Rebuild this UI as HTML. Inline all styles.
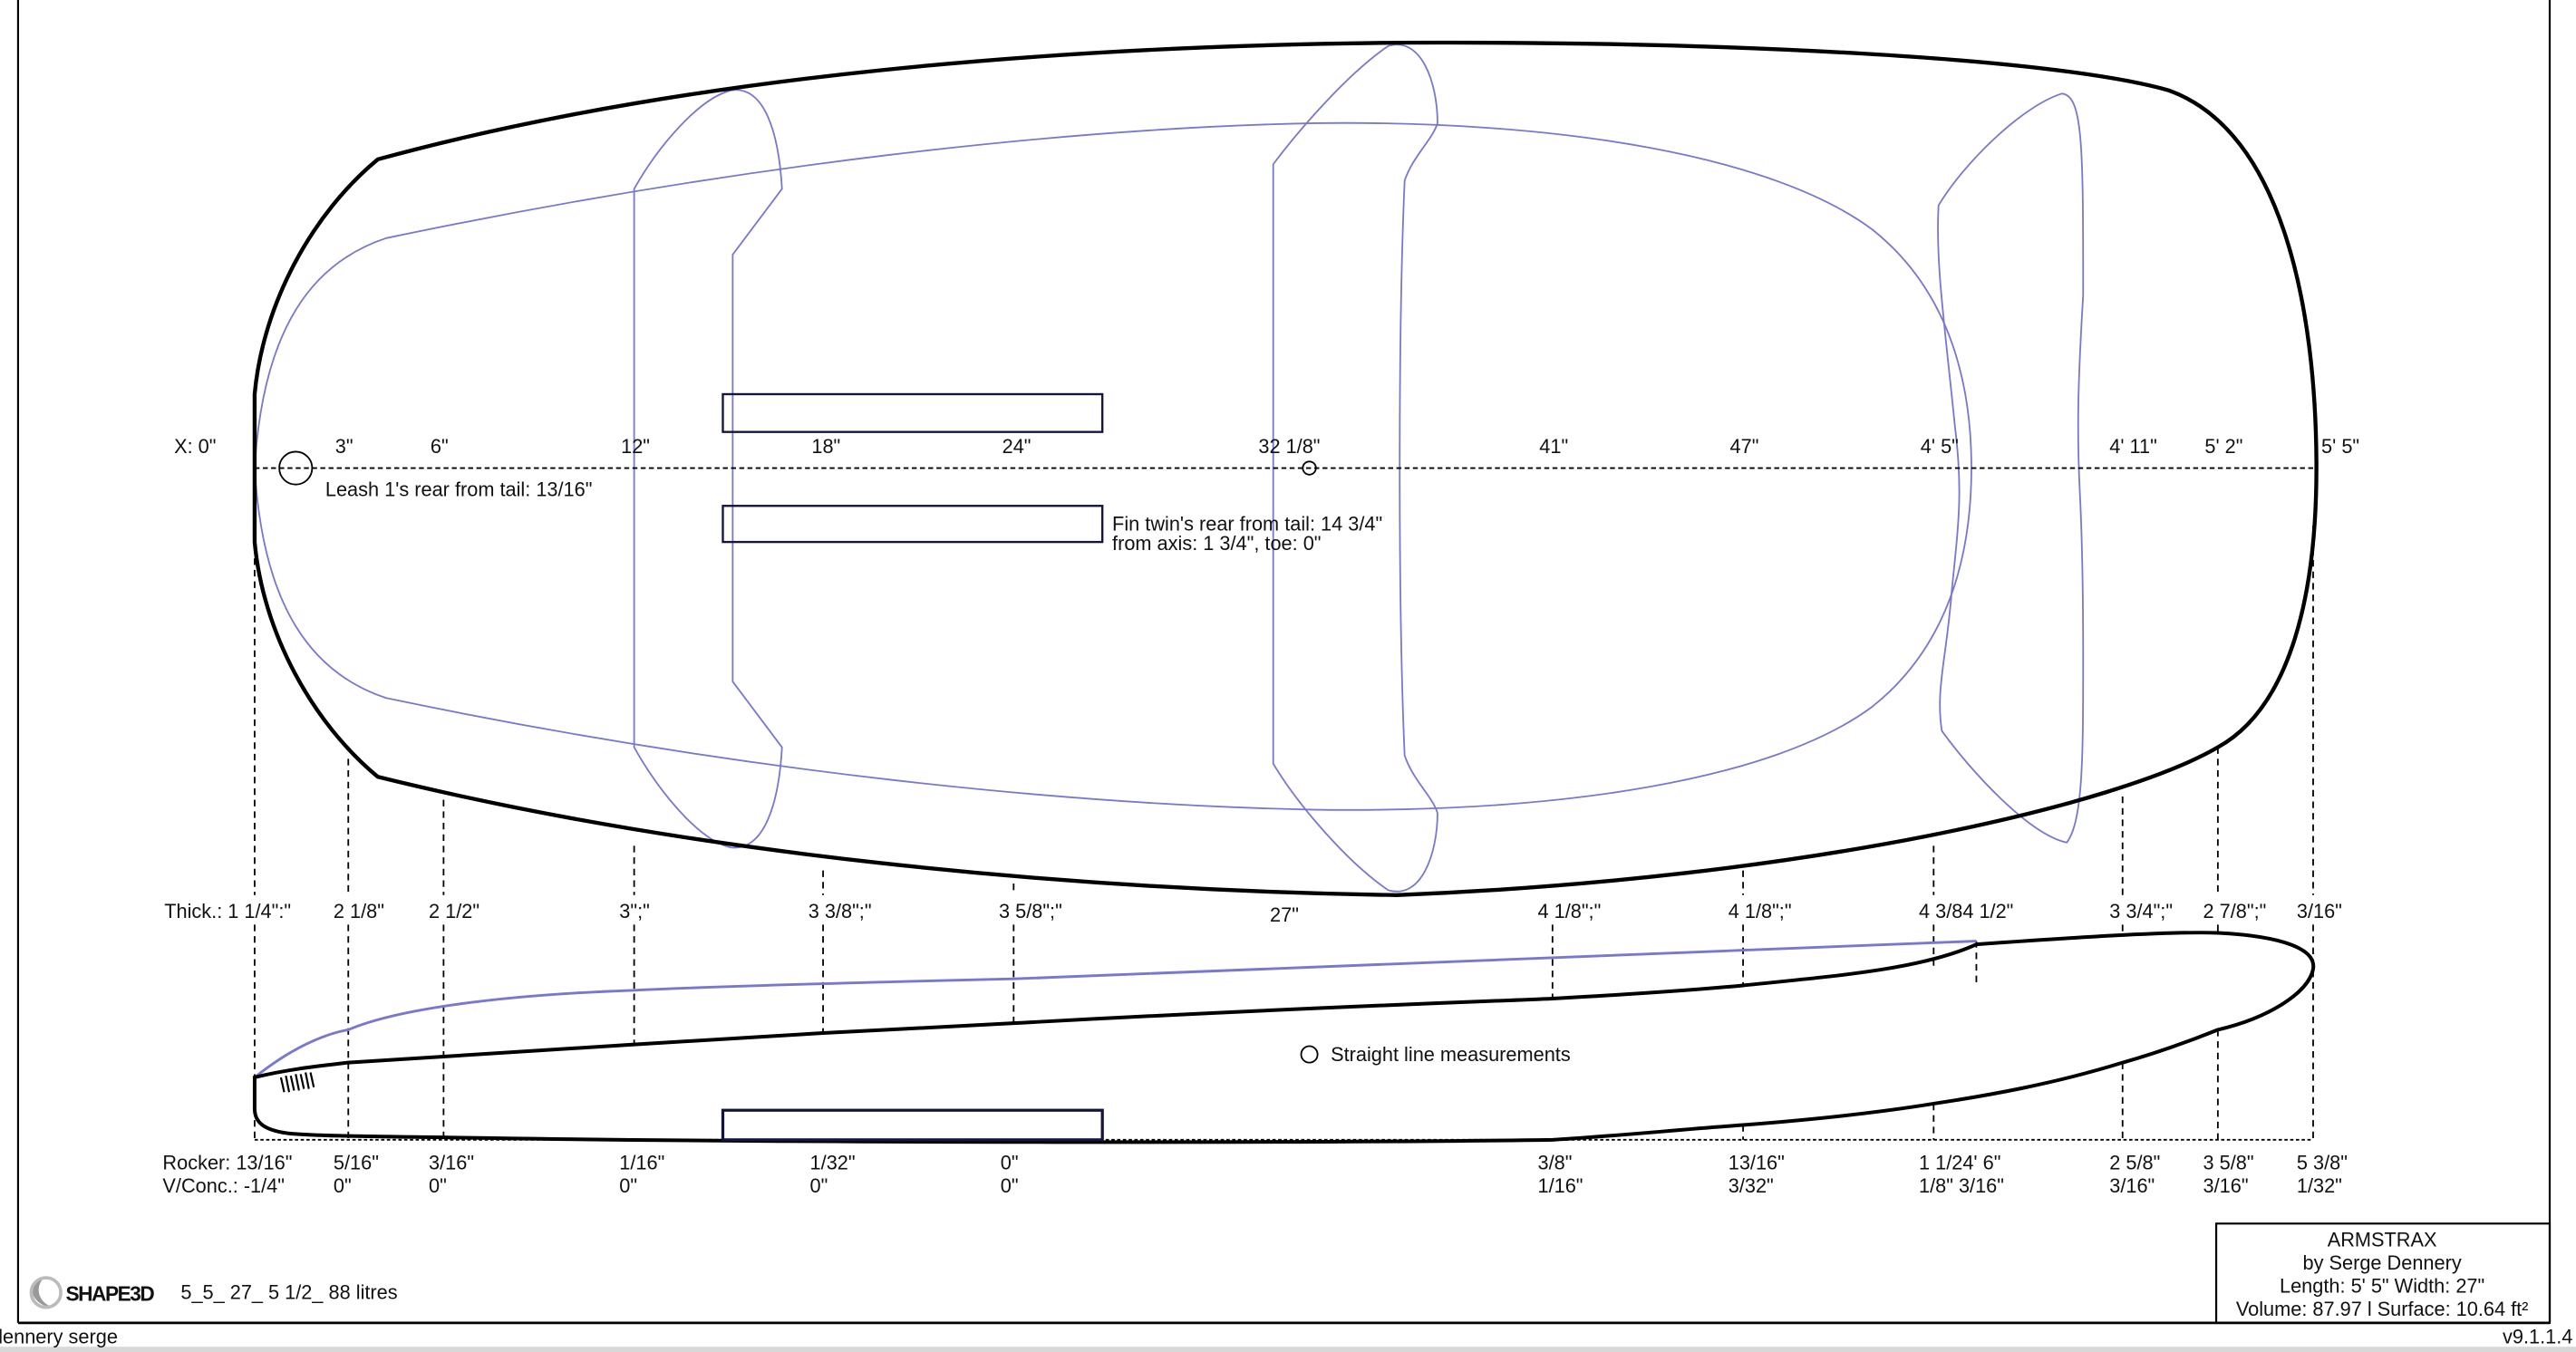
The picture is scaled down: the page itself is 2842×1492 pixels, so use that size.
<!DOCTYPE html>
<html><head><meta charset="utf-8"><style>
html,body{margin:0;padding:0;background:#fff;}
svg{display:block;}
text{font-family:"Liberation Sans","DejaVu Sans",sans-serif;font-size:12px;fill:#111;letter-spacing:0px;}
</style></head><body>
<svg width="2842" height="1492" viewBox="0 0 1568 823.2" preserveAspectRatio="none" xmlns="http://www.w3.org/2000/svg">
<rect x="0" y="0" width="1568" height="823.2" fill="#fff"/>
<line x1="11" y1="0" x2="11" y2="805.5" stroke="#000" stroke-width="1.2"/>
<line x1="1552" y1="0" x2="1552" y2="805.5" stroke="#000" stroke-width="1.2"/>
<line x1="11" y1="805.5" x2="1552" y2="805.5" stroke="#000" stroke-width="1.5"/>
<rect x="0" y="820" width="1568" height="4" fill="#d8d8d8"/>

<path d="M155,285 C160,200 190,160 235,145 C450,100 650,78 800,75 C950,73 1080,95 1140,140 C1190,180 1200,240 1200,285 C1200,330 1190,390 1140,430 C1080,475 950,495 800,493 C650,490 450,470 235,425 C190,410 160,370 155,285 Z" fill="none" stroke="#7878d0" stroke-width="1"/>
<path d="M386,455 L386,115 C400,90 425,60 445,55 C465,52 474,80 476,115 L446,155 L446,415 L476,455 C474,490 465,518 445,516 C425,512 400,480 386,455 Z" fill="none" stroke="#7878d0" stroke-width="1"/>
<path d="M775,465 L775,100 C790,80 820,45 845,28 C865,22 875,50 875,75 C872,85 860,95 855,110 C851,200 851,370 855,460 C860,475 872,485 875,495 C875,520 865,548 845,542 C820,525 790,490 775,465 Z" fill="none" stroke="#7878d0" stroke-width="1"/>
<path d="M1180,125 C1195,100 1230,65 1255,57 C1268,58 1268,90 1268,180 C1265,230 1264,260 1266,300 C1268,340 1268,380 1268,400 C1268,460 1268,500 1258,513 C1235,508 1200,470 1182,445 C1178,420 1185,400 1188,360 C1192,320 1195,300 1190,260 C1184,200 1178,160 1180,125 Z" fill="none" stroke="#7878d0" stroke-width="1"/>

<path d="M155,240 C160,185 190,130 230,97 C420,45 650,28 850,26 C1050,25 1250,35 1320,55 C1390,80 1410,190 1410,285 C1410,360 1395,430 1350,455 C1290,490 1100,535 850,545 C650,542 420,520 230,473 C190,440 160,385 155,330 Z" fill="none" stroke="#000" stroke-width="2.4"/>

<rect x="440" y="240" width="231" height="23" fill="none" stroke="#141440" stroke-width="1.3"/>
<rect x="440" y="308" width="231" height="22" fill="none" stroke="#141440" stroke-width="1.3"/>

<line x1="155" y1="285" x2="1410" y2="285" stroke="#000" stroke-width="1" stroke-dasharray="3,2"/>
<circle cx="180" cy="285" r="10" fill="none" stroke="#000" stroke-width="1"/>
<circle cx="797" cy="285" r="4" fill="none" stroke="#000" stroke-width="1"/>

<g stroke="#000" stroke-width="1" stroke-dasharray="4,3">
<line x1="155" y1="312" x2="155" y2="545"/><line x1="155" y1="563" x2="155" y2="694"/>
<line x1="212" y1="462" x2="212" y2="545"/><line x1="212" y1="563" x2="212" y2="694"/>
<line x1="270" y1="487" x2="270" y2="545"/><line x1="270" y1="563" x2="270" y2="694"/>
<line x1="386" y1="515" x2="386" y2="545"/><line x1="386" y1="563" x2="386" y2="636"/>
<line x1="501" y1="530" x2="501" y2="545"/><line x1="501" y1="563" x2="501" y2="629"/>
<line x1="617" y1="538" x2="617" y2="545"/><line x1="617" y1="563" x2="617" y2="623"/>
<line x1="945" y1="563" x2="945" y2="608"/>
<line x1="1061" y1="530" x2="1061" y2="545"/><line x1="1061" y1="563" x2="1061" y2="600"/>
<line x1="1061" y1="685" x2="1061" y2="694"/>
<line x1="1177" y1="515" x2="1177" y2="545"/><line x1="1177" y1="563" x2="1177" y2="590"/>
<line x1="1177" y1="672" x2="1177" y2="694"/>
<line x1="1203" y1="573" x2="1203" y2="600"/>
<line x1="1292" y1="485" x2="1292" y2="545"/><line x1="1292" y1="563" x2="1292" y2="570"/>
<line x1="1292" y1="647" x2="1292" y2="694"/>
<line x1="1350" y1="455" x2="1350" y2="545"/><line x1="1350" y1="563" x2="1350" y2="568"/>
<line x1="1350" y1="627" x2="1350" y2="694"/>
<line x1="1408" y1="320" x2="1408" y2="545"/><line x1="1408" y1="563" x2="1408" y2="694"/>
</g>
<line x1="155" y1="694" x2="1408" y2="694" stroke="#000" stroke-width="1" stroke-dasharray="2,1.5"/>

<path d="M155,656 C175,640 195,630 212,627 C240,615 300,606 385,603 C450,600 530,598 617,596 C800,590 1000,582 1203,573" fill="none" stroke="#7878d0" stroke-width="1.6"/>
<path d="M155,656 C175,651 195,649 212,647 L385,636 L501,629 L617,623 C800,613 900,610 945,608 C1000,605 1040,602 1061,600 C1120,594 1170,590 1203,575 C1260,571 1320,567 1350,568 C1390,570 1410,578 1408,590 C1405,605 1380,620 1350,627 C1330,635 1310,642 1292,647 C1250,660 1210,667 1177,672 C1140,678 1100,682 1061,685 C1020,688 980,692 945,694 C800,696 500,696 300,693 C240,692 195,692 175,690 C160,688 155,683 155,675 Z" fill="none" stroke="#000" stroke-width="2.2"/>
<rect x="440" y="676" width="231" height="18" fill="#fff" stroke="#141440" stroke-width="1.8"/>
<g stroke="#000" stroke-width="1.2">
<line x1="171" y1="656" x2="173" y2="665"/><line x1="174" y1="655" x2="176" y2="665"/><line x1="177" y1="655" x2="179" y2="664"/><line x1="180" y1="654" x2="182" y2="664"/><line x1="183" y1="654" x2="185" y2="663"/><line x1="186" y1="653" x2="188" y2="663"/><line x1="189" y1="653" x2="191" y2="662"/>
</g>
<circle cx="797" cy="642" r="5" fill="none" stroke="#000" stroke-width="1"/>
<text x="810" y="646">Straight line measurements</text>

<g>
<text x="106" y="276">X: 0"</text><text x="204" y="276">3"</text><text x="262" y="276">6"</text>
<text x="378" y="276">12"</text><text x="494" y="276">18"</text><text x="610" y="276">24"</text>
<text x="766" y="276">32 1/8"</text><text x="937" y="276">41"</text><text x="1053" y="276">47"</text>
<text x="1169" y="276">4' 5"</text><text x="1284" y="276">4' 11"</text><text x="1342" y="276">5' 2"</text>
<text x="1413" y="276">5' 5"</text>
</g>
<text x="198" y="302">Leash 1's rear from tail: 13/16"</text>
<text x="677" y="323">Fin twin's rear from tail: 14 3/4"</text>
<text x="677" y="335">from axis: 1 3/4", toe: 0"</text>

<g>
<text x="100" y="559">Thick.: 1 1/4":"</text><text x="203" y="559">2 1/8"</text><text x="261" y="559">2 1/2"</text>
<text x="377" y="559">3";"</text><text x="492" y="559">3 3/8";"</text><text x="608" y="559">3 5/8";"</text>
<text x="773" y="561">27"</text><text x="936" y="559">4 1/8";"</text><text x="1052" y="559">4 1/8";"</text>
<text x="1168" y="559">4 3/84 1/2"</text><text x="1284" y="559">3 3/4";"</text><text x="1341" y="559">2 7/8";"</text>
<text x="1398" y="559">3/16"</text>
</g>
<g>
<text x="99" y="712">Rocker: 13/16"</text><text x="203" y="712">5/16"</text><text x="261" y="712">3/16"</text>
<text x="377" y="712">1/16"</text><text x="493" y="712">1/32"</text><text x="609" y="712">0"</text>
<text x="936" y="712">3/8"</text><text x="1052" y="712">13/16"</text><text x="1168" y="712">1 1/24' 6"</text>
<text x="1284" y="712">2 5/8"</text><text x="1341" y="712">3 5/8"</text><text x="1398" y="712">5 3/8"</text>
<text x="99" y="726">V/Conc.: -1/4"</text><text x="203" y="726">0"</text><text x="261" y="726">0"</text>
<text x="377" y="726">0"</text><text x="493" y="726">0"</text><text x="609" y="726">0"</text>
<text x="936" y="726">1/16"</text><text x="1052" y="726">3/32"</text><text x="1168" y="726">1/8" 3/16"</text>
<text x="1284" y="726">3/16"</text><text x="1341" y="726">3/16"</text><text x="1398" y="726">1/32"</text>
</g>

<rect x="1349" y="745" width="203" height="60.5" fill="none" stroke="#000" stroke-width="1.2"/>
<g text-anchor="middle">
<text x="1450" y="759">ARMSTRAX</text>
<text x="1450" y="773">by Serge Dennery</text>
<text x="1450" y="787">Length: 5' 5" Width: 27"</text>
<text x="1450" y="801">Volume: 87.97 l  Surface: 10.64 ft²</text>
</g>

<path d="M27,795 C17,790 17,780 27,778 C22,782 22,791 30,795 Z" fill="#999"/>
<circle cx="28" cy="787" r="9" fill="none" stroke="#bbb" stroke-width="2"/>
<text x="40" y="792" style="font-weight:bold;font-size:12.5px;letter-spacing:-0.8px">SHAPE3D</text>
<text x="110" y="791">5_5_ 27_ 5 1/2_ 88 litres</text>

<text x="-5" y="818">dennery serge</text>
<text x="1566" y="818" text-anchor="end">v9.1.1.4</text>
</svg>
</body></html>
